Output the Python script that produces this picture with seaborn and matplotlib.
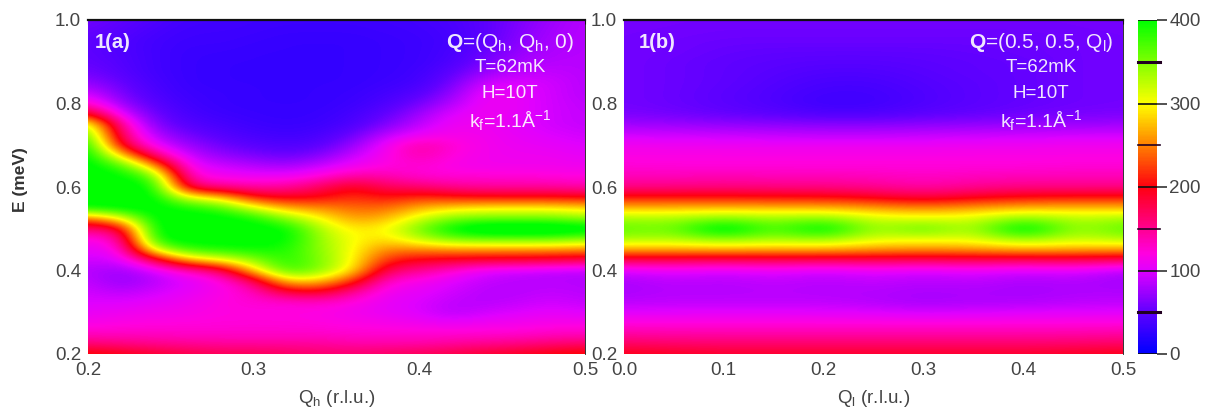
import numpy as np
import matplotlib
matplotlib.use('Agg')
import matplotlib.pyplot as plt
from matplotlib.colors import LinearSegmentedColormap
import seaborn as sns

# energy axis (rows, top to bottom)
E_values = [1.0, 0.975, 0.95, 0.925, 0.9, 0.875, 0.85, 0.825, 0.8, 0.775, 0.75,
            0.725, 0.7, 0.675, 0.65, 0.625, 0.6, 0.575, 0.55, 0.525, 0.5, 0.475,
            0.45, 0.425, 0.4, 0.375, 0.35, 0.325, 0.3, 0.275, 0.25, 0.225, 0.2]

# panel a columns
Qh_values = [0.2, 0.22, 0.24, 0.26, 0.28, 0.3, 0.32, 0.34, 0.36, 0.38, 0.4, 0.42,
             0.44, 0.46, 0.48, 0.5]

intensity_a = [
    [58, 50, 42, 35, 35, 33, 32, 32, 32, 33, 35, 40, 48, 62, 75, 85],
    [54, 46, 38, 33, 33, 32, 30, 30, 30, 32, 33, 38, 48, 64, 78, 85],
    [50, 42, 35, 32, 32, 30, 28, 28, 28, 30, 32, 36, 48, 67, 80, 85],
    [50, 42, 35, 30, 30, 28, 28, 28, 28, 30, 32, 38, 54, 72, 82, 85],
    [52, 44, 35, 30, 28, 28, 28, 28, 28, 30, 32, 40, 60, 78, 85, 85],
    [58, 46, 35, 30, 28, 28, 28, 28, 28, 30, 34, 48, 74, 88, 90, 85],
    [72, 52, 38, 30, 28, 28, 28, 28, 28, 32, 36, 58, 96, 100, 95, 85],
    [95, 60, 40, 32, 30, 28, 28, 28, 30, 36, 44, 70, 110, 105, 95, 85],
    [130, 72, 46, 34, 30, 28, 28, 28, 32, 40, 58, 84, 112, 105, 95, 88],
    [205, 100, 54, 38, 32, 30, 28, 30, 36, 50, 75, 102, 110, 105, 95, 90],
    [330, 140, 64, 44, 38, 32, 30, 32, 40, 62, 88, 110, 110, 103, 95, 90],
    [370, 160, 82, 58, 44, 38, 34, 38, 54, 88, 106, 115, 112, 105, 100, 95],
    [400, 190, 105, 74, 56, 46, 42, 46, 72, 110, 145, 125, 112, 108, 105, 100],
    [410, 290, 160, 92, 72, 62, 54, 65, 92, 115, 140, 120, 112, 110, 110, 105],
    [410, 380, 270, 108, 95, 85, 78, 92, 110, 120, 125, 115, 112, 112, 112, 110],
    [410, 405, 370, 128, 112, 108, 108, 122, 145, 140, 125, 125, 125, 125, 122, 120],
    [410, 410, 405, 170, 150, 142, 145, 170, 200, 170, 165, 150, 145, 145, 145, 140],
    [410, 410, 410, 310, 285, 205, 195, 200, 220, 205, 220, 210, 205, 205, 205, 200],
    [400, 410, 410, 395, 375, 315, 265, 255, 240, 240, 270, 285, 295, 295, 295, 285],
    [240, 300, 410, 410, 410, 395, 345, 300, 260, 270, 315, 350, 355, 355, 355, 340],
    [160, 175, 410, 410, 410, 410, 405, 330, 290, 300, 355, 410, 440, 440, 440, 425],
    [115, 130, 400, 410, 410, 410, 405, 340, 300, 285, 325, 355, 360, 360, 360, 345],
    [105, 110, 320, 380, 390, 395, 390, 345, 300, 250, 250, 255, 255, 255, 255, 250],
    [95, 95, 170, 270, 300, 345, 390, 350, 300, 215, 195, 190, 185, 185, 180, 175],
    [85, 75, 95, 130, 160, 280, 380, 350, 290, 170, 150, 125, 100, 95, 90, 85],
    [90, 70, 85, 100, 115, 165, 285, 280, 220, 125, 115, 100, 90, 85, 85, 85],
    [95, 85, 95, 105, 115, 130, 190, 200, 150, 110, 105, 95, 85, 85, 90, 85],
    [100, 100, 105, 110, 120, 125, 125, 130, 120, 105, 100, 88, 85, 90, 95, 90],
    [105, 110, 112, 115, 120, 120, 120, 118, 112, 105, 100, 85, 95, 100, 105, 100],
    [115, 118, 120, 120, 122, 122, 122, 120, 118, 115, 110, 105, 110, 112, 115, 115],
    [130, 130, 130, 128, 128, 128, 128, 128, 125, 125, 125, 125, 125, 125, 130, 130],
    [160, 155, 150, 148, 145, 145, 145, 145, 140, 140, 140, 145, 150, 155, 160, 165],
    [210, 200, 190, 180, 175, 175, 170, 165, 165, 170, 175, 180, 190, 195, 205, 210],
]

# panel b columns
Ql_values = [0.0, 0.05, 0.1, 0.15, 0.2, 0.25, 0.3, 0.35, 0.4, 0.45, 0.5]

intensity_b = [
    [58, 58, 58, 58, 58, 58, 58, 58, 58, 58, 58],
    [58, 58, 56, 56, 56, 56, 56, 56, 56, 58, 58],
    [58, 56, 54, 54, 54, 54, 54, 54, 54, 56, 58],
    [58, 56, 52, 50, 50, 50, 50, 52, 54, 56, 58],
    [58, 54, 50, 48, 46, 46, 48, 50, 52, 56, 58],
    [58, 54, 50, 46, 42, 42, 46, 50, 52, 56, 58],
    [58, 54, 50, 44, 38, 38, 44, 48, 52, 56, 58],
    [58, 54, 48, 42, 35, 35, 42, 48, 52, 56, 58],
    [58, 54, 48, 42, 32, 34, 42, 48, 52, 56, 58],
    [62, 58, 52, 48, 42, 42, 48, 52, 56, 60, 62],
    [76, 74, 70, 68, 66, 66, 68, 70, 72, 74, 76],
    [95, 94, 92, 90, 88, 88, 90, 92, 94, 95, 95],
    [112, 110, 110, 108, 108, 108, 108, 110, 110, 112, 112],
    [118, 118, 118, 118, 118, 118, 118, 118, 118, 118, 118],
    [124, 122, 122, 122, 122, 122, 122, 122, 122, 124, 124],
    [136, 136, 138, 136, 136, 134, 130, 134, 136, 136, 136],
    [155, 155, 158, 155, 155, 150, 142, 150, 155, 155, 155],
    [208, 208, 208, 205, 205, 195, 180, 195, 205, 208, 208],
    [272, 272, 274, 272, 272, 262, 250, 262, 272, 274, 272],
    [335, 332, 350, 335, 350, 315, 310, 312, 350, 325, 335],
    [365, 350, 440, 355, 430, 325, 375, 318, 440, 328, 370],
    [335, 328, 350, 332, 345, 310, 308, 308, 345, 318, 332],
    [265, 265, 268, 265, 268, 258, 255, 258, 268, 265, 262],
    [172, 172, 168, 172, 168, 172, 168, 172, 168, 172, 165],
    [98, 106, 98, 106, 96, 106, 98, 106, 96, 104, 85],
    [80, 88, 84, 90, 84, 90, 84, 88, 80, 84, 76],
    [80, 85, 84, 86, 84, 84, 80, 82, 78, 82, 82],
    [86, 88, 88, 88, 88, 84, 78, 82, 82, 86, 88],
    [102, 102, 102, 102, 102, 100, 96, 98, 100, 102, 102],
    [120, 120, 120, 120, 120, 120, 120, 120, 120, 120, 120],
    [142, 140, 140, 140, 140, 140, 140, 140, 140, 140, 142],
    [168, 165, 164, 164, 164, 164, 164, 164, 164, 165, 168],
    [198, 194, 190, 190, 190, 190, 190, 190, 190, 194, 198],
]

# colour scale
scale_values = [0, 50, 100, 120, 150, 200, 250, 300, 350, 400]
scale_colors = ['#0000ff', '#6000ff', '#e000ff', '#ff00e0', '#ff0090',
                '#ff0010', '#ff8000', '#ffff00', '#80ff00', '#00ff00']

E_ticks = [0.2, 0.4, 0.6, 0.8, 1.0]
Qh_ticks = [0.2, 0.3, 0.4, 0.5]
Ql_ticks = [0.0, 0.1, 0.2, 0.3, 0.4, 0.5]
cbar_major = [0, 100, 200, 300, 400]
cbar_minor = [50, 150, 250, 350]

W, H = 1208, 412
plt.rcParams['font.family'] = ['Liberation Sans', 'DejaVu Sans']
plt.rcParams['mathtext.fontset'] = 'custom'
plt.rcParams['mathtext.rm'] = 'Liberation Sans'
plt.rcParams['mathtext.bf'] = 'Liberation Sans:bold'
plt.rcParams['mathtext.default'] = 'regular'

cmap = LinearSegmentedColormap.from_list(
    'intensity', [(v / 400, c) for v, c in zip(scale_values, scale_colors)])


def box(x0, x1, y0, y1):
    return [x0 / W, 1 - y1 / H, (x1 - x0) / W, (y1 - y0) / H]


fig = plt.figure(figsize=(W / 100, H / 100), dpi=100)
ax_a = fig.add_axes(box(88, 585, 20, 354))
ax_b = fig.add_axes(box(624, 1123, 20, 354))
cax = fig.add_axes(box(1138, 1157, 20, 354))

TICK_COLOR = '#444444'

sns.heatmap(np.array(intensity_a), ax=ax_a, cmap=cmap, vmin=0, vmax=400,
            cbar=True, cbar_ax=cax, cbar_kws={'ticks': cbar_major},
            xticklabels=False, yticklabels=False)
sns.heatmap(np.array(intensity_b), ax=ax_b, cmap=cmap, vmin=0, vmax=400,
            cbar=False, xticklabels=False, yticklabels=False)

panels = [
    (ax_a, intensity_a, Qh_values, Qh_ticks, 'Q$_{h}$ (r.l.u.)', '1(a)', 95,
     r'$\mathbf{Q}$=(Q$_{h}$, Q$_{h}$, 0)', 510),
    (ax_b, intensity_b, Ql_values, Ql_ticks, 'Q$_{l}$ (r.l.u.)', '1(b)', 639,
     r'$\mathbf{Q}$=(0.5, 0.5, Q$_{l}$)', 1041),
]
for ax, values, q_vals, q_ticks, xlabel, tag, tag_x, q_text, text_x in panels:
    # smooth shading over the heatmap cells, the way the original was rendered
    ax.imshow(values, cmap=cmap, vmin=0, vmax=400, aspect='auto', zorder=2,
              interpolation='bicubic', interpolation_stage='data')
    ax.set_xlim(0, len(q_vals) - 1)
    ax.set_ylim(len(E_values) - 1, 0)
    ax.set_xticks(np.interp(q_ticks, q_vals, np.arange(len(q_vals))))
    ax.set_xticklabels([f'{t:.1f}' for t in q_ticks])
    ax.set_yticks(np.interp(E_ticks, E_values[::-1], np.arange(len(E_values))[::-1]))
    ax.set_yticklabels([f'{t:.1f}' for t in E_ticks])
    ax.tick_params(axis='both', colors=TICK_COLOR, labelsize=13.5, length=0, pad=6)
    ax.tick_params(axis='y', pad=5)
    ax.tick_params(axis='x', top=True, direction='in', length=3, color='#222222', bottom=False)
    ax.set_xlabel(xlabel, fontsize=13.5, color=TICK_COLOR, labelpad=6)
    for name, spine in ax.spines.items():
        spine.set_visible(name in ('top', 'right'))
        spine.set_color('#111111')
        spine.set_linewidth(1.6 if name == 'top' else 0.6)
    fig.text(tag_x / W, 1 - 42 / H, tag, color='white', fontsize=14.5, weight='bold',
             ha='left', va='center', alpha=0.9)
    for label, y_px, size in [(q_text, 42, 15), ('T=62mK', 68, 13.5), ('H=10T', 93, 13.5),
                              ('k$_{f}$=1.1Å$^{-1}$', 121, 14)]:
        fig.text(text_x / W, 1 - y_px / H, label, color='white', fontsize=size,
                 ha='center', va='center', alpha=0.9)

fig.text(21 / W, 1 - 180 / H, 'E (meV)', rotation=90, fontsize=12.5, weight='bold',
         color='#333333', ha='center', va='center')

# colour bar ticks run across the bar
cax.tick_params(axis='y', colors='#333333', labelsize=13.5, length=7, width=1.2, pad=2,
                labelcolor=TICK_COLOR)
for v in cbar_major:
    cax.axhline(v, color='#111111', lw=1.2)
for v, lw in zip(cbar_minor, [2.2, 1.2, 1.2, 2.2]):
    cax.plot([0, 1.15], [v, v], transform=cax.get_yaxis_transform(), color='#220022',
             lw=lw, clip_on=False)

fig.savefig('out.png', dpi=100)
